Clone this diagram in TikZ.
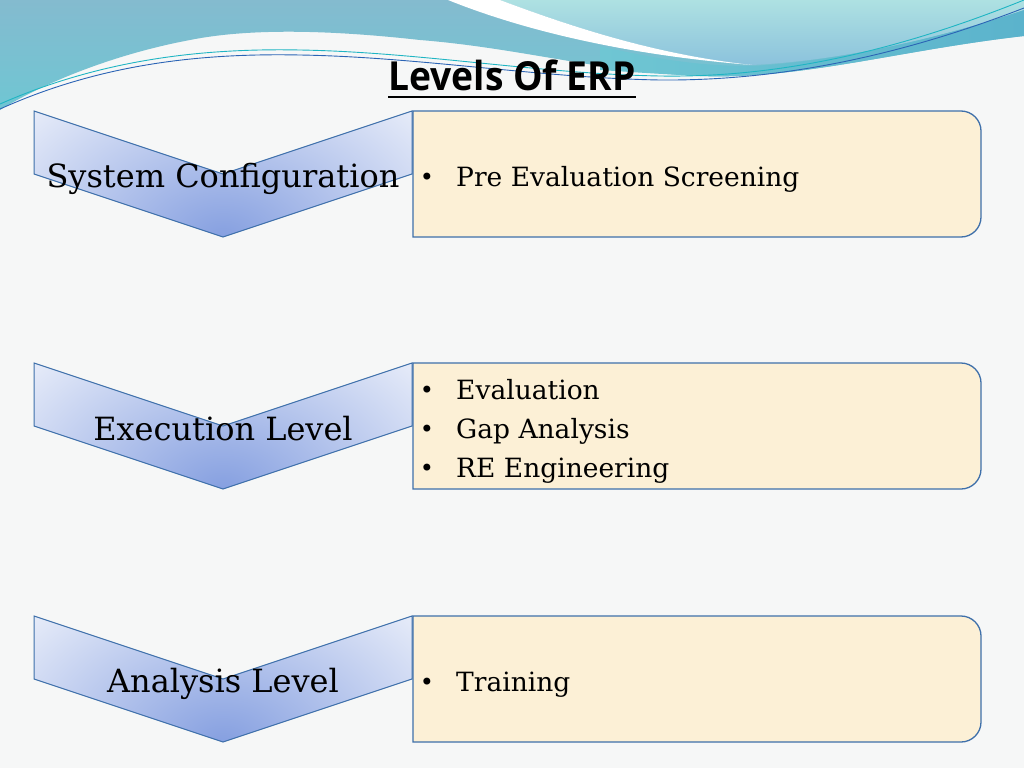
\documentclass[tikz,border=0pt]{standalone}
\usepackage{fontspec}
\setmainfont{DejaVu Serif}
\newfontfamily\titlefont[FakeStretch=0.93]{Open Sans}
\usetikzlibrary{calc}
\definecolor{bgc}{HTML}{F6F7F7}
\definecolor{waveA}{HTML}{84BBCF}
\definecolor{waveB}{HTML}{6FC6D3}
\definecolor{lightA}{HTML}{AEE1E2}
\definecolor{lightB}{HTML}{8BC2DC}
\definecolor{bandR}{HTML}{5BB3CC}
\definecolor{lineT}{HTML}{1FB5C3}
\definecolor{lineB}{HTML}{2B64B5}
\definecolor{chevC}{HTML}{859FE0}
\definecolor{chevL}{HTML}{3D6FAA}
\definecolor{boxF}{HTML}{FCF0D6}
\definecolor{boxL}{HTML}{3F70AA}
\tikzset{
  chevlabel/.style={anchor=base, inner sep=0pt, font=\fontsize{32}{38}\selectfont},
  itemtext/.style={anchor=base west, inner sep=0pt, font=\fontsize{26.5}{32}\selectfont},
  bulletmark/.style={anchor=base, inner sep=0pt, font=\fontsize{24}{28}\selectfont},
  chevline/.style={draw=chevL, line width=1pt},
  boxline/.style={draw=boxL, line width=1.3pt, fill=boxF}
}
\begin{document}
\begin{tikzpicture}[x=1pt,y=-1pt]
\useasboundingbox (0,0) rectangle (1024,768);
\fill[bgc] (0,0) rectangle (1024,768);
% top wave: main region
\shade[top color=waveA, bottom color=waveB] (0,0) -- (1024,0) -- (1024,36)
  .. controls (900,50) and (800,80) .. (700,76)
  .. controls (600,72) and (520,48) .. (420,40)
  .. controls (330,30) and (250,28) .. (190,40)
  .. controls (110,55) and (40,85) .. (0,110) -- cycle;
% right light region
\shade[top color=lightA, bottom color=lightB] (500,0) -- (1024,0) -- (1024,10)
  .. controls (950,35) and (850,60) .. (752,65)
  .. controls (660,55) and (580,30) .. (500,0) -- cycle;
% darker band
\shade[left color=waveB, right color=bandR] (600,46)
  .. controls (660,60) and (700,66) .. (752,66)
  .. controls (850,60) and (950,35) .. (1024,10) -- (1024,36)
  .. controls (900,50) and (800,80) .. (700,76)
  .. controls (660,74) and (630,72) .. (600,70) -- cycle;
% white swoosh
\fill[white] (448,0) -- (500,0) .. controls (580,30) and (660,55) .. (752,65)
  .. controls (650,57) and (540,37) .. (448,0) -- cycle;
% thin lines
\draw[lineT, line width=0.9pt] (0,104) .. controls (100,60) and (200,48) .. (300,50)
  .. controls (420,52) and (540,74) .. (660,76) .. controls (780,78) and (900,50) .. (1024,0);
\draw[lineB, line width=0.9pt] (0,109) .. controls (100,64) and (200,53) .. (300,55)
  .. controls (420,57) and (540,78) .. (660,80) .. controls (780,81) and (900,56) .. (1024,8);
% title
\node[anchor=base, inner sep=0pt, font=\titlefont\bfseries\fontsize{40}{46}\selectfont] (title) at (512,90) {Levels Of ERP};
\draw[black, line width=2.5pt] ($(title.base west)+(0,7)$) -- ($(title.base east)+(0,7)$);
% rows
\foreach \dy in {0,252,505}{
  \begin{scope}[yshift=-\dy pt]
    \begin{scope}
      \clip (34,111) -- (223,174) -- (412,111) -- (412,174) -- (223,237) -- (34,174) -- cycle;
      \shade[inner color=chevC, outer color=white] (223,238) ellipse [x radius=330pt, y radius=230pt];
    \end{scope}
    \draw[chevline] (34,111) -- (223,174) -- (412,111) -- (412,174) -- (223,237) -- (34,174) -- cycle;
    \draw[boxline] (413,111) -- (961,111) .. controls (972,111) and (981,120) .. (981,131)
      -- (981,217) .. controls (981,228) and (972,237) .. (961,237) -- (413,237) -- cycle;
  \end{scope}
}
\node[chevlabel] (l1) at (223,187) {System Configuration};
\node[chevlabel] (l2) at (223,440) {Execution Level};
\node[chevlabel] (l3) at (223,692) {Analysis Level};
\node[bulletmark] (b1) at (427,185) {•};
\node[itemtext] (t1) at (456,186) {Pre Evaluation Screening};
\node[bulletmark] (b2) at (427,398) {•};
\node[itemtext] (t2) at (456,399) {Evaluation};
\node[bulletmark] (b3) at (427,437) {•};
\node[itemtext] (t3) at (456,438) {Gap Analysis};
\node[bulletmark] (b4) at (427,476) {•};
\node[itemtext] (t4) at (456,477) {RE Engineering};
\node[bulletmark] (b5) at (427,690) {•};
\node[itemtext] (t5) at (456,691) {Training};
\end{tikzpicture}
\end{document}
